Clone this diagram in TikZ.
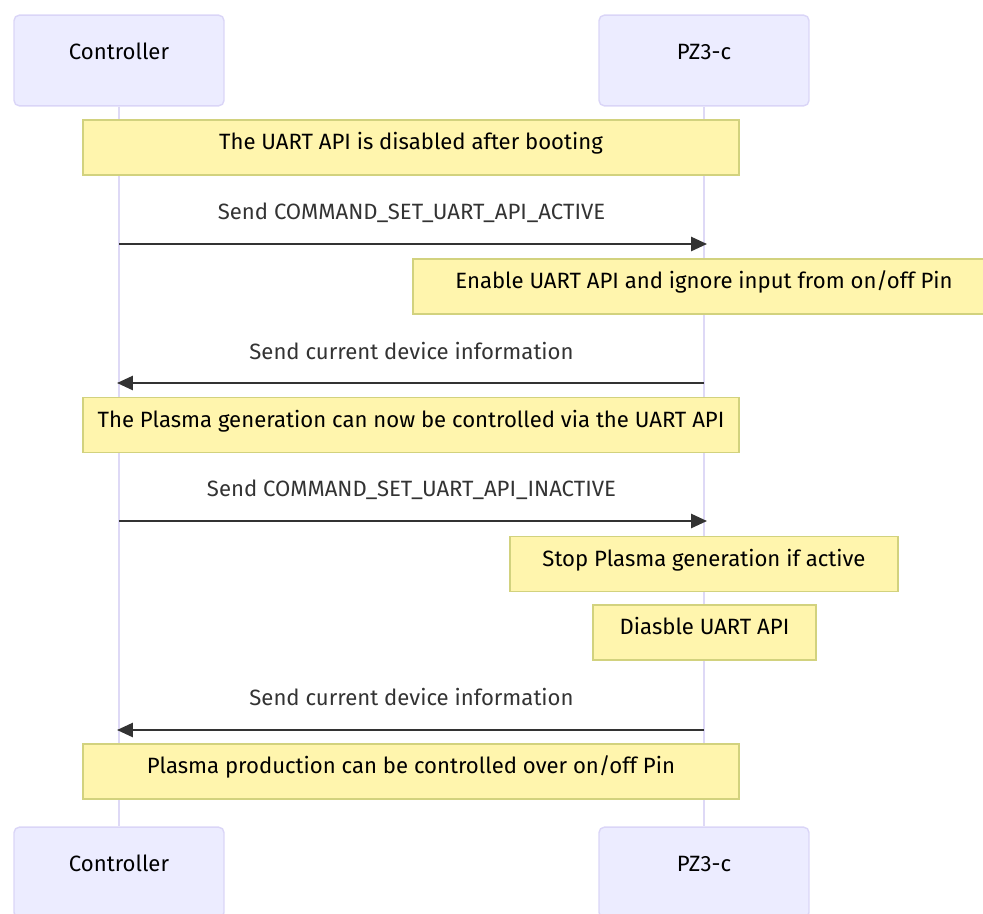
\documentclass[tikz,border=0pt]{standalone}
\usepackage{fontspec}
\setmainfont{Fira Sans}
\usetikzlibrary{arrows.meta}
\definecolor{actorfill}{HTML}{ECECFF}
\definecolor{actorline}{HTML}{DAD5F7}
\definecolor{lifeline}{HTML}{DED9F6}
\definecolor{notefill}{HTML}{FFF5AD}
\definecolor{noteline}{HTML}{D2D27E}
\definecolor{msgline}{HTML}{333333}
\tikzset{
  every node/.style={font=\fontsize{12.6pt}{14pt}\selectfont},
  actor/.style={draw=actorline, fill=actorfill, rounded corners=3pt, line width=0.8pt,
    minimum width=4.2cm, inner xsep=0pt, inner ysep=0pt, text height=25.5pt, text depth=26.1pt},
  note/.style={draw=noteline, fill=notefill, line width=0.8pt, inner xsep=0pt, inner ysep=0pt,
    text height=16.7pt, text depth=14.4pt},
  msglabel/.style={text=msgline},
  msg/.style={draw=msgline, line width=1.2pt, -{Triangle[length=9pt,width=8pt]}},
  life/.style={draw=lifeline, line width=1.1pt}
}
\begin{document}
\begin{tikzpicture}[x=0.02cm,y=-0.02cm]
    \useasboundingbox (0,0) rectangle (983,913);
    \clip (0,0) rectangle (983,913);
    % actors
    \node[actor] (ctrlTop) at (119,60.5) {Controller};
    \node[actor] (pzTop) at (704,60.5) {PZ3-c};
    \node[actor] (ctrlBot) at (119,872.5) {Controller};
    \node[actor] (pzBot) at (704,872.5) {PZ3-c};
    \draw[life] (ctrlTop.south) -- (ctrlBot.north);
    \draw[life] (pzTop.south) -- (pzBot.north);
    % notes
    \node[note, minimum width=13.12cm] (noteBoot) at (411,147.5) {The UART API is disabled after booting};
    \node[note, minimum width=11.64cm] (noteEnable) at (704,286.5) {Enable UART API and ignore input from on/off Pin};
    \node[note, minimum width=13.12cm] (noteUart) at (411,425) {The Plasma generation can now be controlled via the UART API};
    \node[note, minimum width=7.76cm] (noteStop) at (704,564) {Stop Plasma generation if active};
    \node[note, minimum width=4.46cm] (noteDisable) at (704.5,632.5) {Diasble UART API};
    \node[note, minimum width=13.12cm] (notePin) at (411,771.5) {Plasma production can be controlled over on/off Pin};
    % messages
    \coordinate (c1) at (119,244); \coordinate (p1) at (707,244);
    \coordinate (c2) at (117,383); \coordinate (p2) at (704,383);
    \coordinate (c3) at (119,521); \coordinate (p3) at (707,521);
    \coordinate (c4) at (117,730); \coordinate (p4) at (704,730);
    \node[msglabel] (lblActive) at (411.5,213) {Send COMMAND\_SET\_UART\_API\_ACTIVE};
    \node[msglabel] (lblInfoA) at (411.5,351) {Send current device information};
    \node[msglabel] (lblInactive) at (411.5,490) {Send COMMAND\_SET\_UART\_API\_INACTIVE};
    \node[msglabel] (lblInfoB) at (411.5,697) {Send current device information};
    \draw[msg] (c1) -- (p1);
    \draw[msg] (p2) -- (c2);
    \draw[msg] (c3) -- (p3);
    \draw[msg] (p4) -- (c4);
\end{tikzpicture}
\end{document}
